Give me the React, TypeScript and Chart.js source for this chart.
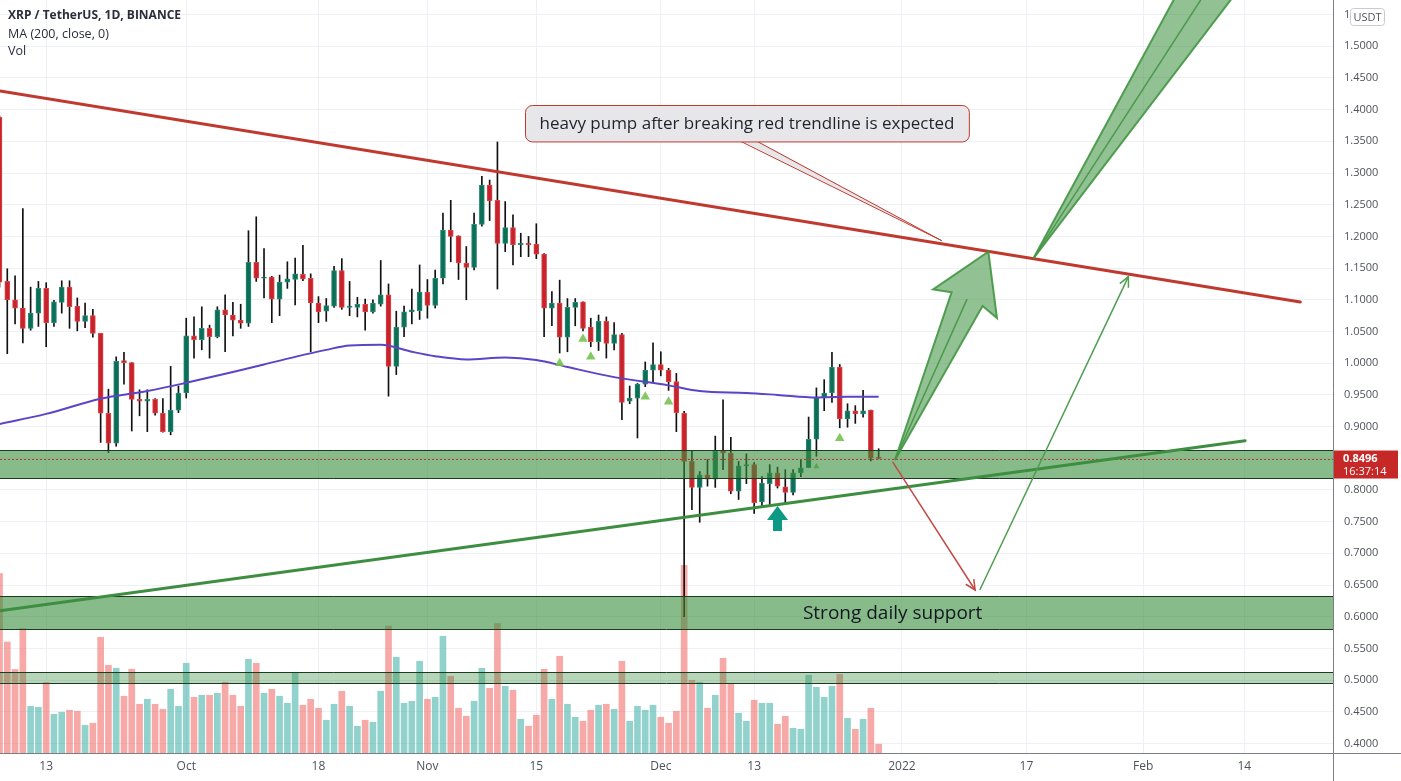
import React, { useEffect, useRef } from 'react';
import { Chart, registerables } from 'chart.js';
Chart.register(...registerables);

// ---- data (daily candles, index 0 = 7 Sep 2021) ----
const opens = [1.388,1.129,1.100,1.087,1.055,1.079,1.118,1.064,1.096,1.120,1.090,1.066,1.075,1.047,0.921,0.874,1.004,1.001,0.943,0.940,0.943,0.921,0.892,0.926,0.953,1.043,1.037,1.055,1.042,1.084,1.076,1.068,1.063,1.159,1.134,1.136,1.101,1.128,1.132,1.140,1.134,1.095,1.082,1.090,1.146,1.088,1.088,1.093,1.081,1.093,1.108,0.995,1.057,1.081,1.083,1.112,1.091,1.134,1.210,1.201,1.158,1.151,1.219,1.281,1.257,1.189,1.214,1.187,1.189,1.188,1.172,1.087,1.095,1.041,1.088,1.097,1.057,1.034,1.066,1.031,1.045,0.940,0.945,0.967,0.989,0.998,0.989,0.971,0.921,0.845,0.804,0.824,0.817,0.862,0.858,0.798,0.838,0.840,0.781,0.810,0.827,0.805,0.796,0.827,0.835,0.880,0.946,0.953,0.994,0.912,0.925,0.920,0.926,0.852];
const highs = [1.390,1.149,1.138,1.244,1.120,1.129,1.127,1.099,1.130,1.130,1.103,1.095,1.085,1.047,0.959,1.010,1.017,1.001,0.958,0.958,0.944,0.944,0.995,0.964,1.071,1.073,1.089,1.060,1.089,1.108,1.096,1.093,1.209,1.231,1.181,1.137,1.139,1.160,1.166,1.186,1.141,1.105,1.102,1.153,1.165,1.129,1.104,1.101,1.100,1.162,1.125,1.082,1.090,1.117,1.155,1.132,1.147,1.237,1.257,1.201,1.184,1.237,1.295,1.289,1.349,1.255,1.234,1.205,1.200,1.220,1.173,1.113,1.131,1.102,1.102,1.097,1.071,1.076,1.073,1.064,1.047,0.964,0.968,1.002,1.032,1.018,0.992,0.984,0.924,0.861,0.829,0.848,0.885,0.942,0.883,0.845,0.857,0.843,0.821,0.840,0.836,0.832,0.832,0.848,0.915,0.961,0.974,1.017,0.998,0.936,0.933,0.957,0.926,0.865];
const lows = [1.120,1.015,1.062,1.032,1.052,1.058,1.026,1.058,1.079,1.055,1.051,1.056,1.041,0.875,0.859,0.869,0.967,0.893,0.917,0.892,0.918,0.891,0.887,0.922,0.945,1.008,1.021,1.008,1.040,1.018,1.043,1.055,1.058,1.129,1.103,1.064,1.075,1.118,1.092,1.130,1.018,1.064,1.066,1.088,1.085,1.075,1.073,1.052,1.079,1.090,0.948,0.982,1.042,1.062,1.069,1.071,1.087,1.125,1.160,1.132,1.100,1.147,1.216,1.225,1.117,1.176,1.155,1.168,1.168,1.165,1.042,1.059,1.016,1.018,1.059,1.051,1.026,1.020,1.008,1.021,0.911,0.936,0.882,0.963,0.971,0.980,0.957,0.892,0.600,0.769,0.749,0.806,0.804,0.832,0.794,0.785,0.810,0.763,0.774,0.777,0.803,0.777,0.792,0.821,0.835,0.853,0.925,0.938,0.898,0.899,0.905,0.915,0.846,0.849];
const closes = [1.128,1.100,1.087,1.055,1.079,1.118,1.064,1.097,1.120,1.089,1.066,1.075,1.047,0.921,0.874,1.003,1.001,0.943,0.940,0.943,0.921,0.892,0.926,0.953,1.043,1.037,1.055,1.042,1.084,1.076,1.068,1.063,1.159,1.134,1.136,1.101,1.128,1.133,1.141,1.133,1.095,1.081,1.091,1.146,1.088,1.090,1.093,1.081,1.095,1.108,0.995,1.057,1.081,1.084,1.112,1.091,1.134,1.210,1.200,1.158,1.151,1.219,1.281,1.256,1.189,1.214,1.187,1.189,1.187,1.172,1.087,1.095,1.041,1.088,1.096,1.055,1.034,1.066,1.031,1.045,0.938,0.945,0.967,0.989,0.998,0.989,0.971,0.922,0.845,0.804,0.824,0.817,0.861,0.858,0.798,0.838,0.840,0.780,0.811,0.827,0.806,0.796,0.827,0.835,0.880,0.946,0.953,0.994,0.912,0.925,0.920,0.925,0.850,0.8496];
// volume, millions of XRP
const volumes = [718,444,334,498,187,183,282,155,163,171,167,111,119,463,351,339,227,335,195,215,195,175,255,187,359,223,231,231,239,283,231,187,375,359,239,255,227,199,323,191,215,179,131,195,247,187,107,131,123,247,508,383,199,207,367,215,223,467,307,179,147,207,339,259,518,267,251,135,107,151,335,215,387,195,143,127,171,191,195,175,367,127,187,171,191,143,119,167,751,291,283,179,231,379,279,159,127,211,199,199,115,147,99,95,311,263,223,267,315,139,95,135,179,35];
// MA(200, close) read at selected candles
const maIndex = [0,6,13,19,24,30,34,38,42,45,49,53,56,60,65,69,73,79,86,90,96,100,105,109,113];
const maValues = [0.904,0.920,0.944,0.956,0.969,0.986,0.998,1.010,1.021,1.028,1.029,1.018,1.011,1.006,1.009,1.005,0.994,0.978,0.965,0.956,0.953,0.950,0.946,0.947,0.947];
// signal triangles
const signalIndex = [72,75,76,83,86,105,108];
const signalPrice = [1.000,1.038,1.010,0.947,0.939,0.837,0.8815];
const signalSize = [5.5,5.5,5.5,5.5,5.5,3.5,5.5];
// axis ticks
const xTickIndex = [6,24,41,55,69,85,97,116,132,147,160];
const xTickLabels = ['13','Oct','18','Nov','15','Dec','13','2022','17','Feb','14'];
const yTickValues = [0.40,0.45,0.50,0.55,0.60,0.65,0.70,0.75,0.80,0.85,0.90,0.95,1.00,1.05,1.10,1.15,1.20,1.25,1.30,1.35,1.40,1.45,1.50,1.55];
const lastPrice = 0.8496;
const countdown = '16:37:14';

// ---- drawings (index, price) ----
const redTrend = [[0.064, 1.4294], [167.2, 1.0965]];
const greenTrend = [[0.064, 0.6095], [160.1, 0.8777]];
const zoneTops = [0.8630, 0.6327, 0.5123];
const zoneBottoms = [0.8184, 0.5802, 0.4950];
const zoneAlpha = [0.6, 0.6, 0.36];
const supportLabel = 'Strong daily support';
const supportLabelIndex = 114.8;
const calloutText = 'heavy pump after breaking red trendline is expected';
const calloutBox = [67.55, 1.4073, 124.6, 1.3498];
const calloutTail = [[95.3, 97.4], [121.1, 1.1933]];
const bigArrow1 = [[115.1, 0.8473], [127.1, 1.1759]];
const bigArrow2 = [[132.9, 1.1655], [162.3, 1.7229]];
const redThinArrow = [[114.8, 0.8442], [125.4, 0.6422]];
const greenThinArrow = [[126.0, 0.6422], [145.1, 1.1365]];
const tealMarker = [100, 0.7747];

const FONT = '"Open Sans", sans-serif';
const UP_BODY = '#0d6e57', UP_BORDER = '#2b8c74';
const DN_BODY = '#c8232c', DN_BORDER = '#d94848';

function bigArrow(ctx: CanvasRenderingContext2D, x0: number, y0: number, x1: number, y1: number,
  head: number, shaft: number, wing: number, back: number) {
  const dx = x1 - x0, dy = y1 - y0, L = Math.hypot(dx, dy);
  const ux = dx / L, uy = dy / L, nx = -uy, ny = ux;
  const bx = x1 - ux * head, by = y1 - uy * head;
  const wx = bx - ux * back, wy = by - uy * back;
  ctx.beginPath();
  ctx.moveTo(x0, y0);
  ctx.lineTo(bx + nx * shaft, by + ny * shaft);
  ctx.lineTo(wx + nx * wing, wy + ny * wing);
  ctx.lineTo(x1, y1);
  ctx.lineTo(wx - nx * wing, wy - ny * wing);
  ctx.lineTo(bx - nx * shaft, by - ny * shaft);
  ctx.closePath();
  ctx.fillStyle = 'rgba(56,142,60,0.55)';
  ctx.fill();
  ctx.strokeStyle = 'rgba(67,150,67,0.9)';
  ctx.lineWidth = 2;
  ctx.lineJoin = 'miter';
  ctx.stroke();
  ctx.beginPath();
  ctx.moveTo(x0, y0);
  ctx.lineTo(bx, by);
  ctx.lineWidth = 1.5;
  ctx.stroke();
}

function thinArrow(ctx: CanvasRenderingContext2D, x0: number, y0: number, x1: number, y1: number, color: string) {
  const a = Math.atan2(y1 - y0, x1 - x0);
  ctx.strokeStyle = color;
  ctx.lineWidth = 1.5;
  ctx.beginPath();
  ctx.moveTo(x0, y0);
  ctx.lineTo(x1, y1);
  ctx.stroke();
  ctx.beginPath();
  ctx.moveTo(x1 - 11 * Math.cos(a - 0.45), y1 - 11 * Math.sin(a - 0.45));
  ctx.lineTo(x1, y1);
  ctx.lineTo(x1 - 11 * Math.cos(a + 0.45), y1 - 11 * Math.sin(a + 0.45));
  ctx.stroke();
}

const overlay = {
  id: 'overlay',
  afterDatasetsDraw(chart: any) {
    const { ctx, chartArea: a } = chart;
    const xs = chart.scales.x, ys = chart.scales.y;
    const X = (v: number) => xs.getPixelForValue(v);
    const Y = (v: number) => ys.getPixelForValue(v);
    ctx.save();
    ctx.beginPath();
    ctx.rect(a.left, a.top, a.right - a.left, a.bottom - a.top);
    ctx.clip();

    // zones
    zoneTops.forEach((top, k) => {
      const t = Y(top), b = Y(zoneBottoms[k]);
      ctx.fillStyle = `rgba(56,142,60,${zoneAlpha[k]})`;
      ctx.fillRect(a.left, t, a.right - a.left, b - t);
      ctx.strokeStyle = '#1d3b20';
      ctx.lineWidth = 1;
      ctx.beginPath();
      ctx.moveTo(a.left, Math.round(t) + 0.5); ctx.lineTo(a.right, Math.round(t) + 0.5);
      ctx.moveTo(a.left, Math.round(b) + 0.5); ctx.lineTo(a.right, Math.round(b) + 0.5);
      ctx.stroke();
    });
    ctx.fillStyle = '#131722';
    ctx.font = `19px ${FONT}`;
    ctx.textAlign = 'center';
    ctx.textBaseline = 'middle';
    ctx.fillText(supportLabel, X(supportLabelIndex), (Y(zoneTops[1]) + Y(zoneBottoms[1])) / 2 + 1);

    // last price dotted line
    ctx.strokeStyle = '#d32f2f';
    ctx.lineWidth = 1;
    ctx.setLineDash([2, 2]);
    ctx.beginPath();
    const lp = Math.round(Y(lastPrice)) + 0.5;
    ctx.moveTo(a.left, lp); ctx.lineTo(a.right, lp);
    ctx.stroke();
    ctx.setLineDash([]);

    // trendlines
    ctx.lineCap = 'round';
    ctx.lineWidth = 3;
    ctx.strokeStyle = '#c0392f';
    ctx.beginPath();
    ctx.moveTo(X(redTrend[0][0]), Y(redTrend[0][1])); ctx.lineTo(X(redTrend[1][0]), Y(redTrend[1][1]));
    ctx.stroke();
    ctx.strokeStyle = '#3e8e41';
    ctx.beginPath();
    ctx.moveTo(X(greenTrend[0][0]), Y(greenTrend[0][1])); ctx.lineTo(X(greenTrend[1][0]), Y(greenTrend[1][1]));
    ctx.stroke();
    ctx.lineCap = 'butt';

    // thin arrows
    thinArrow(ctx, X(redThinArrow[0][0]), Y(redThinArrow[0][1]), X(redThinArrow[1][0]), Y(redThinArrow[1][1]), '#c24a46');
    thinArrow(ctx, X(greenThinArrow[0][0]), Y(greenThinArrow[0][1]), X(greenThinArrow[1][0]), Y(greenThinArrow[1][1]), '#4f9d4f');

    // big arrows
    bigArrow(ctx, X(bigArrow1[0][0]), Y(bigArrow1[0][1]), X(bigArrow1[1][0]), Y(bigArrow1[1][1]), 52, 17, 35, 5);
    bigArrow(ctx, X(bigArrow2[0][0]), Y(bigArrow2[0][1]), X(bigArrow2[1][0]), Y(bigArrow2[1][1]), 60, 28, 56, 6);

    // callout
    const bl = X(calloutBox[0]), bt = Y(calloutBox[1]), br = X(calloutBox[2]), bb = Y(calloutBox[3]);
    ctx.fillStyle = '#e7e7ea';
    ctx.strokeStyle = '#c0392f';
    ctx.lineWidth = 1;
    ctx.beginPath();
    ctx.moveTo(X(calloutTail[0][0]), bb - 1);
    ctx.lineTo(X(calloutTail[1][0]), Y(calloutTail[1][1]));
    ctx.lineTo(X(calloutTail[0][1]), bb - 1);
    ctx.closePath();
    ctx.fill();
    ctx.beginPath();
    ctx.moveTo(X(calloutTail[0][0]), bb);
    ctx.lineTo(X(calloutTail[1][0]), Y(calloutTail[1][1]));
    ctx.lineTo(X(calloutTail[0][1]), bb);
    ctx.stroke();
    ctx.beginPath();
    (ctx as any).roundRect(Math.round(bl) + 0.5, Math.round(bt) + 0.5, br - bl, bb - bt, 7);
    ctx.fill();
    ctx.stroke();
    ctx.fillStyle = '#1e222d';
    ctx.font = `17px ${FONT}`;
    ctx.textAlign = 'center';
    ctx.textBaseline = 'middle';
    ctx.fillText(calloutText, (bl + br) / 2, (bt + bb) / 2 + 1);

    // teal marker arrow
    const mx = X(tealMarker[0]), my = Y(tealMarker[1]);
    ctx.fillStyle = '#0c9a84';
    ctx.beginPath();
    ctx.moveTo(mx, my);
    ctx.lineTo(mx + 10.5, my + 14);
    ctx.lineTo(mx + 4.5, my + 14);
    ctx.lineTo(mx + 4.5, my + 25);
    ctx.lineTo(mx - 4.5, my + 25);
    ctx.lineTo(mx - 4.5, my + 14);
    ctx.lineTo(mx - 10.5, my + 14);
    ctx.closePath();
    ctx.fill();
    ctx.restore();

    // ---- axes ----
    ctx.save();
    const W = chart.width, H = chart.height;
    ctx.strokeStyle = '#7b7e87';
    ctx.lineWidth = 1;
    ctx.beginPath();
    ctx.moveTo(Math.round(a.right) + 0.5, 0); ctx.lineTo(Math.round(a.right) + 0.5, H);
    ctx.moveTo(0, Math.round(a.bottom) + 0.5); ctx.lineTo(W, Math.round(a.bottom) + 0.5);
    ctx.stroke();

    ctx.fillStyle = '#4f525c';
    ctx.font = `11px ${FONT}`;
    ctx.textAlign = 'left';
    ctx.textBaseline = 'middle';
    yTickValues.forEach(v => ctx.fillText(v.toFixed(4), a.right + 11, Y(v)));

    ctx.font = `12px ${FONT}`;
    ctx.textAlign = 'center';
    xTickIndex.forEach((v, k) => ctx.fillText(xTickLabels[k], X(v), a.bottom + 14));

    // last price label
    const ly = Y(lastPrice);
    ctx.fillStyle = '#c62828';
    ctx.fillRect(a.right + 1, ly - 8, 64, 28);
    ctx.fillStyle = '#ffffff';
    ctx.textAlign = 'left';
    ctx.font = `bold 11px ${FONT}`;
    ctx.fillText(lastPrice.toFixed(4), a.right + 10, ly + 0.5);
    ctx.font = `11px ${FONT}`;
    ctx.fillText(countdown, a.right + 10, ly + 13);

    // currency box
    ctx.fillStyle = '#ffffff';
    ctx.strokeStyle = '#c9cbd1';
    ctx.beginPath();
    (ctx as any).roundRect(a.right + 17.5, 8.5, 34, 17, 3);
    ctx.fill();
    ctx.stroke();
    ctx.fillStyle = '#50535e';
    ctx.textAlign = 'center';
    ctx.font = `11px ${FONT}`;
    ctx.fillText('USDT', a.right + 34.5, 17.5);

    // legend
    ctx.textAlign = 'left';
    ctx.fillStyle = '#2a2e39';
    ctx.font = `bold 12px ${FONT}`;
    ctx.fillText('XRP / TetherUS, 1D, BINANCE', 8, 16);
    ctx.font = `12.5px ${FONT}`;
    ctx.fillText('MA (200, close, 0)', 8, 34);
    ctx.fillText('Vol', 8, 51);
    ctx.restore();
  },
};

export default function App() {
  const ref = useRef<HTMLCanvasElement>(null);
  useEffect(() => {
    document.body.style.margin = '0';
    const idx = opens.map((_, i) => i);
    const up = idx.map(i => closes[i] >= opens[i]);
    const chart = new Chart(ref.current as HTMLCanvasElement, {
      type: 'bar',
      data: {
        datasets: [
          {
            type: 'line', label: 'signals',
            data: signalIndex.map((x, k) => ({ x, y: signalPrice[k] })),
            showLine: false, pointStyle: 'triangle', pointRadius: signalSize,
            pointBackgroundColor: 'rgba(118,194,80,0.9)', pointBorderWidth: 0,
            yAxisID: 'y', order: -1, clip: false,
          } as any,
          {
            type: 'line', label: 'MA',
            data: maIndex.map((x, k) => ({ x, y: maValues[k] })),
            borderColor: '#5d43c6', borderWidth: 2, pointRadius: 0,
            cubicInterpolationMode: 'monotone', yAxisID: 'y', order: 0,
          } as any,
          {
            type: 'bar', label: 'body',
            data: idx.map(i => ({ x: i, y: [opens[i], closes[i]] })),
            backgroundColor: up.map(u => (u ? UP_BODY : DN_BODY)),
            borderColor: up.map(u => (u ? UP_BORDER : DN_BORDER)),
            borderWidth: 1, borderSkipped: false, barThickness: 5, grouped: false,
            minBarLength: 1, yAxisID: 'y', order: 1,
          } as any,
          {
            type: 'bar', label: 'wick',
            data: idx.map(i => ({ x: i, y: [lows[i], highs[i]] })),
            backgroundColor: '#111111', borderWidth: 0, barThickness: 1, grouped: false,
            yAxisID: 'y', order: 2,
          } as any,
          {
            type: 'bar', label: 'volume',
            data: idx.map(i => ({ x: i, y: volumes[i] })),
            backgroundColor: up.map(u => (u ? 'rgba(38,166,154,0.5)' : 'rgba(239,83,80,0.5)')),
            borderWidth: 0, barThickness: 6, grouped: false, yAxisID: 'yv', order: 3,
          } as any,
        ],
      },
      options: {
        responsive: false,
        animation: false,
        devicePixelRatio: 1,
        events: [],
        layout: { padding: 0, autoPadding: false },
        plugins: { legend: { display: false }, tooltip: { enabled: false } },
        scales: {
          x: {
            type: 'linear', min: 0.064, max: 171.4, offset: false, position: 'bottom',
            afterBuildTicks: (s: any) => { s.ticks = xTickIndex.map(v => ({ value: v })); },
            afterFit: (s: any) => { s.height = 28; },
            ticks: { display: false },
            grid: { color: '#eef0f5', drawTicks: false, offset: false },
            border: { display: false },
          },
          y: {
            type: 'linear', position: 'right', min: 0.385, max: 1.573,
            afterBuildTicks: (s: any) => { s.ticks = yTickValues.map(v => ({ value: v })); },
            afterFit: (s: any) => { s.width = 68; },
            ticks: { display: false },
            grid: { color: '#eef0f5', drawTicks: false },
            border: { display: false },
          },
          yv: { type: 'linear', display: false, min: 0, max: 3012 },
        },
      } as any,
      plugins: [overlay],
    });
    return () => chart.destroy();
  }, []);
  return (
    <div style={{ position: 'fixed', left: 0, top: 0, width: 1401, height: 781, background: '#ffffff' }}>
      <canvas ref={ref} width={1401} height={781} style={{ display: 'block', width: 1401, height: 781 }} />
    </div>
  );
}
